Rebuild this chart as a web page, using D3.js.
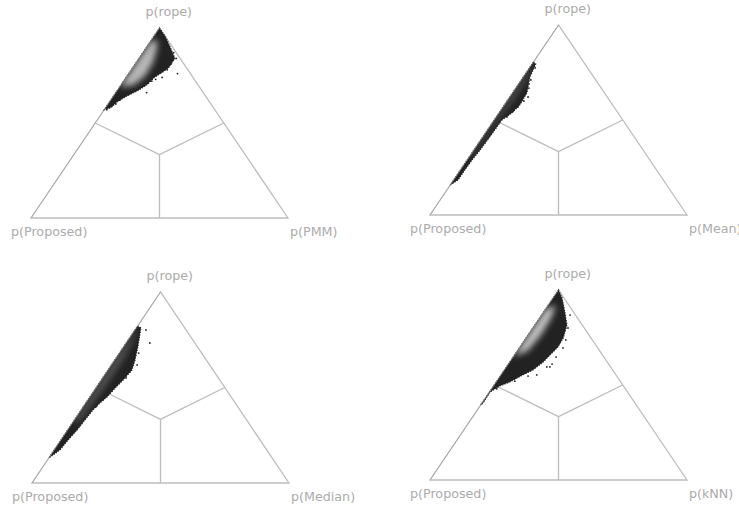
<!DOCTYPE html>
<html>
<head>
<meta charset="utf-8">
<script src="https://cdn.jsdelivr.net/npm/d3@7"></script>
<style>
  body { margin: 0; background: #fff; }
  text { font-family: "DejaVu Sans", sans-serif; }
</style>
</head>
<body>
<div id="main"></div>
<script>
const ctx = {
    w: 739,
    h: 508,
    lineColor: "#bdbdbd",
    textColor: "#ababab",
    fontSize: 12.7
};

// opponent of the proposed method in each panel
const methods = ["PMM", "Mean", "Median", "kNN"];

// all points are [p(rope), p(Proposed)], p(other) = 1 - both
// outline of the dense sample cloud
const cloudPMM = [[1.00,0.00],[0.95,0.00],[0.89,0.01],[0.84,0.02],[0.82,0.04],[0.79,0.07],[0.77,0.10],
    [0.74,0.15],[0.70,0.20],[0.67,0.25],[0.64,0.31],[0.61,0.36],[0.58,0.40],[0.57,0.43]];
const cloudMean = [[0.805,0.195],[0.795,0.191],[0.726,0.248],[0.642,0.302],[0.579,0.361],[0.537,0.413],
    [0.50,0.47],[0.411,0.562],[0.342,0.634],[0.289,0.692],[0.237,0.746],[0.184,0.799],[0.158,0.842]];
const cloudMedian = [[0.822,0.178],[0.812,0.170],[0.775,0.193],[0.712,0.232],[0.644,0.277],[0.592,0.315],
    [0.539,0.376],[0.497,0.428],[0.450,0.483],[0.419,0.526],[0.382,0.572],[0.330,0.629],[0.277,0.686],
    [0.225,0.747],[0.173,0.805],[0.131,0.869]];
const cloudKNN = [[1.00,0.00],[0.958,0.007],[0.884,0.033],[0.816,0.059],[0.747,0.108],[0.70,0.152],
    [0.658,0.204],[0.621,0.249],[0.579,0.31],[0.553,0.362],[0.516,0.431],[0.495,0.481],[0.463,0.535],
    [0.405,0.591],[0.395,0.605]];

// brighter high density core
const corePMM = [[0.94,0.04],[0.89,0.065],[0.82,0.115],[0.75,0.18],[0.70,0.25],[0.69,0.31],[0.80,0.20],[0.93,0.07]];
const coreMean = [[0.78,0.21],[0.62,0.36],[0.47,0.52],[0.30,0.69],[0.30,0.70],[0.47,0.53],[0.62,0.38],[0.78,0.22]];
const coreMedian = [[0.80,0.19],[0.65,0.32],[0.50,0.47],[0.32,0.66],[0.32,0.68],[0.50,0.50],[0.65,0.35],[0.80,0.20]];
const coreKNN = [[0.92,0.05],[0.85,0.105],[0.76,0.19],[0.68,0.28],[0.65,0.35],[0.75,0.25],[0.90,0.10]];

// isolated samples outside the cloud
const outPMM = [[0.76,0.05],[0.87,0.01],[0.84,0.015],[0.74,0.12],[0.73,0.15],[0.72,0.17],[0.66,0.22],
    [0.68,0.26],[0.66,0.28],[0.64,0.32],[0.60,0.37],[0.57,0.42],[0.59,0.39],[0.78,0.08],[0.71,0.19],
    [0.69,0.23],[0.62,0.345],[0.81,0.05]];
const outMean = [[0.774,0.204],[0.711,0.252],[0.668,0.281],[0.621,0.308],[0.568,0.374],[0.547,0.403],[0.516,0.442],
    [0.60,0.335],[0.69,0.27]];
const outMedian = [[0.801,0.156],[0.733,0.175],[0.618,0.282],[0.55,0.359],[0.476,0.458],[0.435,0.507],
    [0.68,0.245],[0.58,0.33],[0.40,0.55]];
const outKNN = [[0.868,0.021],[0.80,0.063],[0.695,0.135],[0.595,0.236],[0.595,0.248],[0.553,0.308],
    [0.737,0.103],[0.647,0.186],[0.547,0.345],[0.61,0.22],[0.52,0.41],[0.48,0.50]];

const clouds = [cloudPMM, cloudMean, cloudMedian, cloudKNN];
const cores = [corePMM, coreMean, coreMedian, coreKNN];
const outliers = [outPMM, outMean, outMedian, outKNN];
const coreColors = ["#b8b8b8", "#5e5e5e", "#5a5a5a", "#c4c4c4"];

// triangle corners of each panel: left x, right x, apex y, base y
const layout = [
    {lx: 31, rx: 288, top: 28, base: 218},
    {lx: 430, rx: 687, top: 25, base: 215},
    {lx: 32, rx: 289, top: 292, base: 483},
    {lx: 430, rx: 687, top: 290, base: 480}
];

function drawPanel(svgEl, i){
    let L = layout[i];
    let x = d3.scaleLinear().domain([-1, 1]).range([L.lx, L.rx]);
    let y = d3.scaleLinear().domain([0, 1]).range([L.base, L.top]);
    // ternary -> screen
    let proj = (d) => [x((1 - d[0] - d[1]) - d[1]), y(d[0])];
    let line = d3.line().x((d) => proj(d)[0]).y((d) => proj(d)[1]);
    let g = svgEl.append("g").attr("id", "panel" + i);

    let corners = [[1, 0], [0, 1], [0, 0]];
    let third = [1/3, 1/3];
    let mids = [[0.5, 0.5], [0.5, 0], [0, 0.5]];

    g.append("path")
     .attr("d", line(corners) + "Z")
     .attr("fill", "none")
     .attr("stroke", ctx.lineColor)
     .attr("stroke-width", 1.3);
    g.selectAll("line.div")
     .data(mids)
     .enter()
     .append("line")
     .attr("class", "div")
     .attr("x1", proj(third)[0]).attr("y1", proj(third)[1])
     .attr("x2", (d) => proj(d)[0]).attr("y2", (d) => proj(d)[1])
     .attr("stroke", ctx.lineColor)
     .attr("stroke-width", 1.3);

    // cloud
    let clipId = "clip" + i;
    g.append("clipPath").attr("id", clipId)
     .append("path").attr("d", line(clouds[i]) + "Z");
    g.append("path")
     .attr("d", line(clouds[i]) + "Z")
     .attr("fill", "#222")
     .attr("stroke", "#262626")
     .attr("stroke-width", 1.2)
     .attr("stroke-dasharray", "1.2,1.4");
    g.append("g")
     .attr("clip-path", `url(#${clipId})`)
     .append("path")
     .attr("d", line(cores[i]) + "Z")
     .attr("fill", coreColors[i])
     .attr("filter", "url(#soft)");
    g.selectAll("circle")
     .data(outliers[i])
     .enter()
     .append("circle")
     .attr("cx", (d) => proj(d)[0])
     .attr("cy", (d) => proj(d)[1])
     .attr("r", 0.9)
     .attr("fill", "#222");
    // left edge stays visible through the cloud
    g.append("path")
     .attr("d", line([[1, 0], [0, 1]]))
     .attr("stroke", "#9a9a9a")
     .attr("stroke-opacity", 0.6)
     .attr("stroke-width", 1);

    // labels
    let apex = proj([1, 0]), left = proj([0, 1]), right = proj([0, 0]);
    let lab = [
        {t: "p(rope)", x: apex[0] - 14, y: apex[1] - 12},
        {t: "p(Proposed)", x: left[0] - 20, y: left[1] + 17.5},
        {t: `p(${methods[i]})`, x: right[0] + 2, y: right[1] + 17.5}
    ];
    g.selectAll("text")
     .data(lab)
     .enter()
     .append("text")
     .attr("x", (d) => d.x)
     .attr("y", (d) => d.y)
     .attr("fill", ctx.textColor)
     .style("font-size", ctx.fontSize + "px")
     .text((d) => d.t);
}

function createViz(){
    let svgEl = d3.select("#main").append("svg")
        .attr("width", ctx.w)
        .attr("height", ctx.h);
    svgEl.append("defs")
         .append("filter").attr("id", "soft")
         .attr("x", "-50%").attr("y", "-50%").attr("width", "200%").attr("height", "200%")
         .append("feGaussianBlur").attr("stdDeviation", 3);
    for (let i = 0; i < methods.length; i++){
        drawPanel(svgEl, i);
    }
}

createViz();
</script>
</body>
</html>
